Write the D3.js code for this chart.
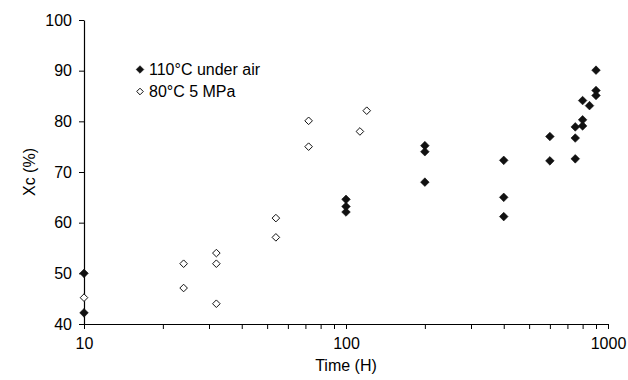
<!DOCTYPE html>
<html>
<head>
<meta charset="utf-8">
<script src="https://cdn.jsdelivr.net/npm/d3@7"></script>
<style>
  body { margin: 0; background: #fff; }
  text { font-family: "Liberation Sans", Arial, sans-serif; fill: #000; }
</style>
</head>
<body>
<div id="vis"></div>
<script>
const WIDTH = 628, HEIGHT = 380;
const MARG = {left: 84, right: 20, top: 20, bottom: 56};

// 110°C under air (filled diamonds)
const airTime = [10, 10, 100, 100, 100, 200, 200, 200, 400, 400, 400, 600, 600,
                 750, 750, 750, 800, 800, 800, 850, 900, 900, 900];
const airXc   = [50, 42.2, 64.6, 63.2, 62.1, 75.2, 74.0, 68.0, 72.3, 65.0, 61.2, 77.0, 72.2,
                 78.9, 76.7, 72.6, 84.1, 80.3, 79.1, 83.1, 90.1, 86.1, 85.1];
// 80°C 5 MPa (open diamonds)
const presTime = [10, 24, 24, 32, 32, 32, 54, 54, 72, 72, 113, 120];
const presXc   = [45.2, 51.9, 47.1, 54.0, 51.9, 44.0, 60.9, 57.1, 80.1, 75.0, 78.0, 82.1];

const yTicks = [40, 50, 60, 70, 80, 90, 100];
const xLabels = [10, 100, 1000];
const legendNames = ["110°C under air", "80°C 5 MPa"];

const VIS_W = WIDTH - MARG.left - MARG.right;
const VIS_H = HEIGHT - MARG.top - MARG.bottom;

const svg = d3.select("#vis").append("svg")
  .attr("width", WIDTH).attr("height", HEIGHT);

const X = d3.scaleLog().domain([10, 1000]).range([MARG.left, MARG.left + 524]);
const Y = d3.scaleLinear().domain([40, 100]).range([MARG.top + 304, MARG.top]);

// diamond path
function diamond(r) {
  return `M0,${-r}L${r},0L0,${r}L${-r},0Z`;
}

// x axis
const xTickVals = [];
for (let d = 10; d <= 1000; d *= 10) {
  for (let m = 1; m < 10; m++) { if (d * m <= 1000) xTickVals.push(d * m); }
}
const xAxis = svg.append("g")
  .attr("transform", "translate(0," + Y(40) + ")")
  .call(d3.axisBottom(X).tickValues(xTickVals).tickSize(5).tickSizeOuter(0)
    .tickFormat(d => xLabels.includes(d) ? d : ""));
xAxis.selectAll("text").attr("font-size", 16).attr("dy", "1.05em");
xAxis.select(".domain").attr("stroke-width", 1.2);

// y axis
const yAxis = svg.append("g")
  .attr("transform", "translate(" + X(10) + ",0)")
  .call(d3.axisLeft(Y).tickValues(yTicks).tickSize(5).tickSizeOuter(0).tickPadding(7));
yAxis.selectAll("text").attr("font-size", 16);
yAxis.select(".domain").attr("stroke-width", 1.2);

// axis titles
svg.append("text")
  .attr("x", X(100)).attr("y", 371)
  .attr("text-anchor", "middle").attr("font-size", 16)
  .text("Time (H)");
svg.append("text")
  .attr("transform", "translate(35," + Y(70) + ") rotate(-90)")
  .attr("text-anchor", "middle").attr("font-size", 16)
  .text("Xc (%)");

// points
svg.selectAll(".air")
  .data(airTime.map((t, i) => [t, airXc[i]]))
  .enter().append("path")
  .attr("class", "air")
  .attr("d", diamond(4.3))
  .attr("transform", d => "translate(" + X(d[0]) + "," + Y(d[1]) + ")")
  .attr("fill", "#111").attr("stroke", "#111").attr("stroke-width", 0.6);

svg.selectAll(".pres")
  .data(presTime.map((t, i) => [t, presXc[i]]))
  .enter().append("path")
  .attr("class", "pres")
  .attr("d", diamond(3.8))
  .attr("transform", d => "translate(" + X(d[0]) + "," + Y(d[1]) + ")")
  .attr("fill", "#fff").attr("stroke", "#111").attr("stroke-width", 1);

// legend
const leg = svg.append("g");
legendNames.forEach((name, i) => {
  const y = 69.5 + i * 22;
  leg.append("path")
    .attr("d", diamond(i === 0 ? 3.8 : 3.3))
    .attr("transform", "translate(140," + y + ")")
    .attr("fill", i === 0 ? "#111" : "#fff")
    .attr("stroke", "#111").attr("stroke-width", i === 0 ? 0.6 : 1);
  leg.append("text")
    .attr("x", 149).attr("y", y + 5.8)
    .attr("font-size", 16)
    .text(name);
});
</script>
</body>
</html>
